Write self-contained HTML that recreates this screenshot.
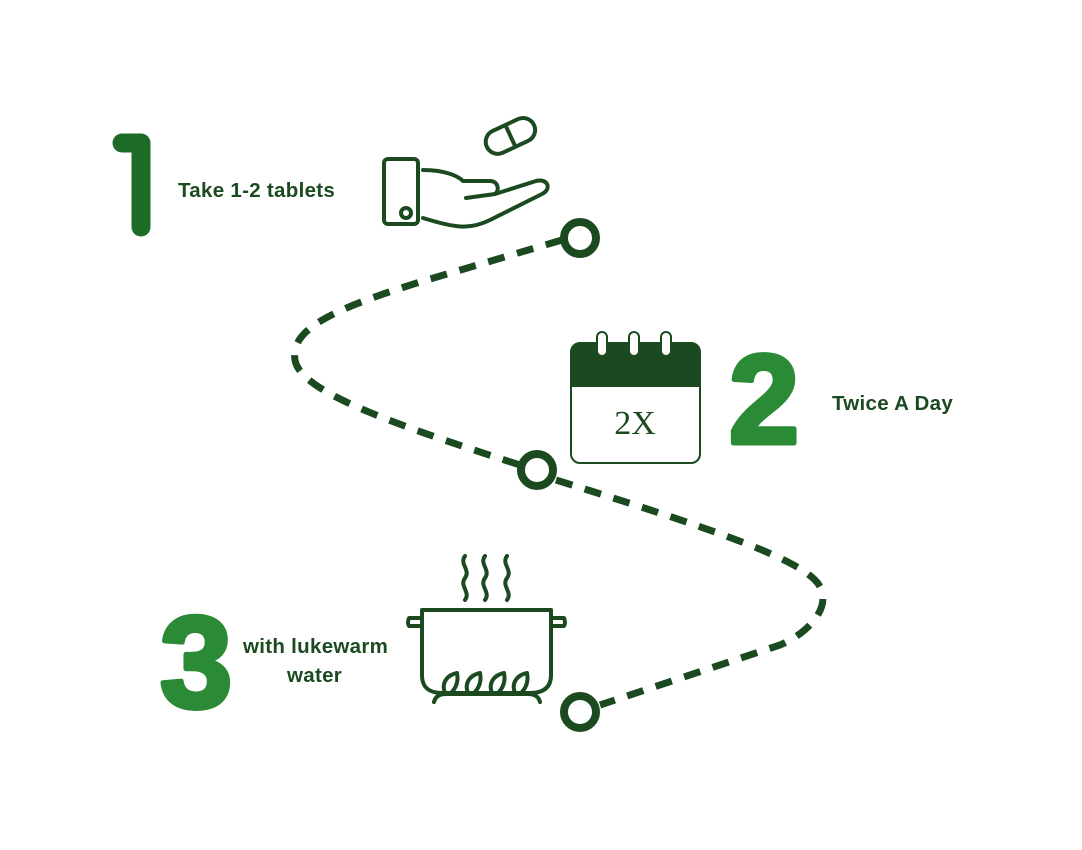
<!DOCTYPE html>
<html><head><meta charset="utf-8"><style>
html,body{margin:0;padding:0;background:#fff;}
svg{display:block}
.lbl{font-family:"Liberation Sans",sans-serif;font-weight:bold;font-size:20.5px;letter-spacing:0.3px;fill:#1b4a20;}
.num{font-family:"Liberation Sans",sans-serif;font-weight:bold;stroke-linejoin:round;}
</style></head><body>
<svg width="1082" height="850" viewBox="0 0 1082 850" xmlns="http://www.w3.org/2000/svg">
<path d="M562,240 L420,282 C330,310 290,330 295,360 C300,390 380,420 520,465 M556,480 C700,525 790,555 815,580 C835,600 815,630 780,645 L600,705" fill="none" stroke="#1b4a20" stroke-width="7" stroke-dasharray="17,13"/>
<g fill="none" stroke="#1b4a20" stroke-width="8">
<circle cx="580" cy="238" r="16"/>
<circle cx="537" cy="470" r="16"/>
<circle cx="580" cy="712" r="16"/>
</g>
<path d="M122,143 L141,143 L141,227" fill="none" stroke="#1c6b27" stroke-width="19" stroke-linecap="round" stroke-linejoin="round"/>
<text x="729" y="443" class="num" font-size="126" fill="#2a8a36" stroke="#2a8a36" stroke-width="5">2</text>
<text x="160" y="707" class="num" font-size="130" fill="#2a8a36" stroke="#2a8a36" stroke-width="5">3</text>
<text x="178" y="197" class="lbl">Take 1-2 tablets</text>
<text x="832" y="410" class="lbl">Twice A Day</text>
<text x="243" y="653" class="lbl">with lukewarm</text>
<text x="287" y="682" class="lbl">water</text>
<g fill="none" stroke="#1b4a20" stroke-width="4" stroke-linecap="round" stroke-linejoin="round">
<rect x="384" y="159" width="34" height="65" rx="4"/>
<circle cx="406" cy="213" r="5"/>
<path d="M423,170 C445,170 458,176 463,181 L490,181 C498,181 500,190 495,194 L466,198"/>
<path d="M495,194 L536,181 C548,178 552,189 542,194 L490,220 C470,230 455,228 423,218"/>
<g transform="rotate(-25 510 135)"><rect x="484" y="124" width="52" height="24" rx="12"/><line x1="510" y1="124" x2="510" y2="148"/></g>
</g>
<rect x="571" y="343" width="129" height="120" rx="9" fill="#fff" stroke="#1b4a20" stroke-width="2"/>
<path d="M571,387 L571,352 Q571,343 580,343 L691,343 Q700,343 700,352 L700,387 Z" fill="#1b4a20"/>
<g fill="#fff" stroke="#1b4a20" stroke-width="2"><rect x="597" y="332" width="10" height="24" rx="5"/><rect x="629" y="332" width="10" height="24" rx="5"/><rect x="661" y="332" width="10" height="24" rx="5"/></g>
<text x="635" y="434" text-anchor="middle" font-family="Liberation Serif,serif" font-size="34" fill="#1b4a20">2X</text>
<g fill="none" stroke="#1b4a20" stroke-width="4" stroke-linecap="round" stroke-linejoin="round">
<path d="M465,556 c-6,8 6,14 0,22 c-6,8 6,14 0,22"/>
<path d="M485,556 c-6,8 6,14 0,22 c-6,8 6,14 0,22"/>
<path d="M507,556 c-6,8 6,14 0,22 c-6,8 6,14 0,22"/>
<path d="M422,610 L551,610 L551,675 C551,690 540,693 530,693 L443,693 C432,693 422,690 422,675 Z"/>
<path d="M422,618 L409,618 Q407,623 409,626 L422,626"/>
<path d="M551,618 L564,618 Q566,623 564,626 L551,626"/>
<path d="M434,702 Q436,694 446,694 L528,694 Q538,694 540,702"/>
<path d="M445,693 c-4,-10 2,-18 12,-20 c2,10 -2,16 -6,20"/>
<path d="M468,693 c-4,-10 2,-18 12,-20 c2,10 -2,16 -6,20"/>
<path d="M492,693 c-4,-10 2,-18 12,-20 c2,10 -2,16 -6,20"/>
<path d="M515,693 c-4,-10 2,-18 12,-20 c2,10 -2,16 -6,20"/>
</g>
</svg>
</body></html>
